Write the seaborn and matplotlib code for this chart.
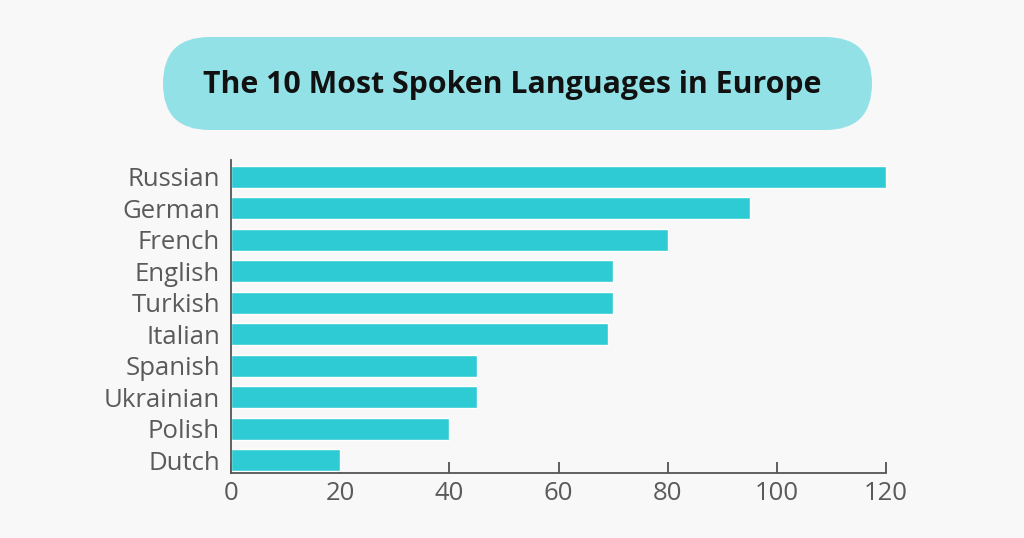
import matplotlib
matplotlib.use("Agg")
import matplotlib.pyplot as plt
from matplotlib.patches import FancyBboxPatch
import seaborn as sns

# datos
languages = ["Russian", "German", "French", "English", "Turkish",
             "Italian", "Spanish", "Ukrainian", "Polish", "Dutch"]
speakers = [120, 95, 80, 70, 70, 69, 45, 45, 40, 20]
x_ticks = [0, 20, 40, 60, 80, 100, 120]
title = "The 10 Most Spoken Languages in Europe"

bg = "#f8f8f8"
bar_color = "#2ecbd4"
pill_color = "#92e1e6"
text_gray = "#5a5a5a"

sns.set_theme(style="white")
plt.rcParams["font.family"] = ["Open Sans", "DejaVu Sans"]

fig = plt.figure(figsize=(10.24, 5.38), dpi=100)
fig.patch.set_facecolor(bg)

#------------------------------ Cabecera en forma de pastilla ------------------------------#
head = fig.add_axes([0, 0, 1, 1], zorder=0)
head.set_xlim(0, 1024)
head.set_ylim(538, 0)
head.axis("off")
head.patch.set_alpha(0)
pill = FancyBboxPatch((163, 37), 709, 93, boxstyle="round,pad=0,rounding_size=46.5",
                      facecolor=pill_color, edgecolor="none")
head.add_patch(pill)
head.text(512, 85, title, ha="center", va="center", fontsize=21.8,
          fontweight="bold", color="#111111")

#------------------------------ Barras ------------------------------#
ax = fig.add_axes([231 / 1024, 65 / 538, 655 / 1024, 313 / 538], zorder=1)
ax.set_facecolor(bg)
ax.patch.set_alpha(0)
sns.barplot(x=speakers, y=languages, orient="h", color=bar_color,
            saturation=1, width=0.7, ax=ax)

ax.set_xlim(0, 120)
ax.set_ylim(9.41, -0.54)
ax.set_xticks(x_ticks)
ax.set_xlabel("")
ax.set_ylabel("")

for s in ["top", "right"]:
    ax.spines[s].set_visible(False)
for s in ["left", "bottom"]:
    ax.spines[s].set_color("#555555")
    ax.spines[s].set_linewidth(1.3)

ax.tick_params(axis="x", direction="in", length=8, width=1.2, color="#444444",
               labelsize=18.5, labelcolor=text_gray, pad=6, bottom=True)
ax.tick_params(axis="y", direction="in", length=2, width=1, color="#444444",
               labelsize=18.5, labelcolor=text_gray, pad=8, left=True)
for p in ax.patches:
    p.set_clip_on(False)

fig.savefig("out.png", dpi=100, facecolor=bg)
